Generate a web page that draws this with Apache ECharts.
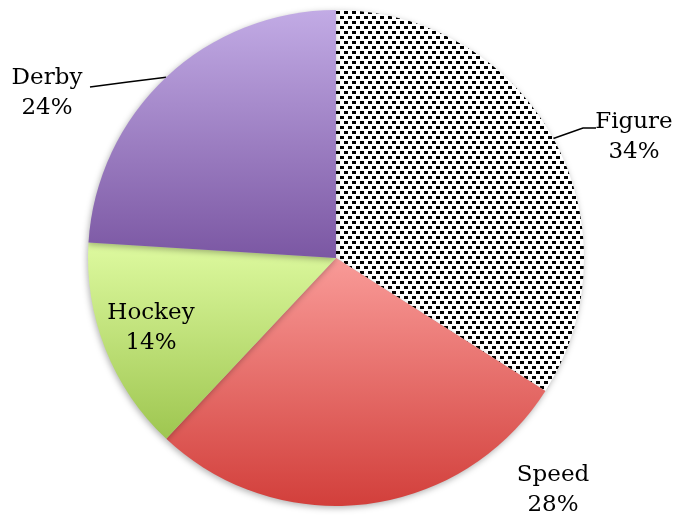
<!DOCTYPE html>
<html>
<head>
<meta charset="utf-8">
<script src="https://cdn.jsdelivr.net/npm/echarts@6/dist/echarts.min.js"></script>
<style>
html,body{margin:0;padding:0;background:#fff;}
#chart{width:675px;height:518px;}
</style>
</head>
<body>
<div id="chart"></div>
<script>
const categories = ['Figure', 'Speed', 'Hockey', 'Derby'];
const values = [34, 28, 14, 24];

// dotted pattern for the Figure slice
const tile = document.createElement('canvas');
tile.width = 8; tile.height = 10;
const tc = tile.getContext('2d');
tc.fillStyle = '#ffffff';
tc.fillRect(0, 0, 8, 10);
tc.fillStyle = '#000000';
tc.fillRect(0, 1, 4, 3);
tc.fillRect(4, 6, 4, 3);

function grad(top, bottom) {
  return new echarts.graphic.LinearGradient(0, 0, 0, 1, [
    { offset: 0, color: top },
    { offset: 1, color: bottom }
  ]);
}
const fills = [
  { image: tile, repeat: 'repeat' },
  grad('#F99B98', '#D23F3B'),
  grad('#DEFAA0', '#9EC650'),
  grad('#C2ABE5', '#7B57A3')
];
const showLine = [true, false, false, true];
const labelPos = [
  { x: 634, y: 137, line: [[583, 128], [596, 128]] },
  { x: 553, y: 490 },
  { x: 151, y: 328 },
  { x: 47, y: 93, line: [[128, 82], [90, 87]] }
];

const chart = echarts.init(document.getElementById('chart'), null, { renderer: 'canvas' });
chart.setOption({
  animation: false,
  series: [{
    type: 'pie',
    center: [336, 258],
    radius: 248,
    startAngle: 90,
    clockwise: true,
    avoidLabelOverlap: false,
    itemStyle: {
      borderWidth: 0,
      shadowBlur: 6,
      shadowColor: 'rgba(0,0,0,0.3)',
      shadowOffsetX: -1,
      shadowOffsetY: 2
    },
    label: {
      show: true,
      position: 'outside',
      formatter: '{b}\n{d}%',
      fontFamily: 'DejaVu Serif',
      fontSize: 23,
      lineHeight: 30,
      color: '#000',
      align: 'center'
    },
    labelLine: {
      show: true,
      lineStyle: { color: '#000', width: 1.5 }
    },
    labelLayout: function (params) {
      const p = labelPos[params.dataIndex];
      const out = { x: p.x, y: p.y, align: 'center', verticalAlign: 'middle' };
      if (p.line && params.labelLinePoints) {
        out.labelLinePoints = [params.labelLinePoints[0], p.line[0], p.line[1]];
      }
      return out;
    },
    data: categories.map((c, i) => ({
      name: c,
      value: values[i],
      itemStyle: { color: fills[i] },
      labelLine: { show: showLine[i] }
    }))
  }]
});
</script>
</body>
</html>
